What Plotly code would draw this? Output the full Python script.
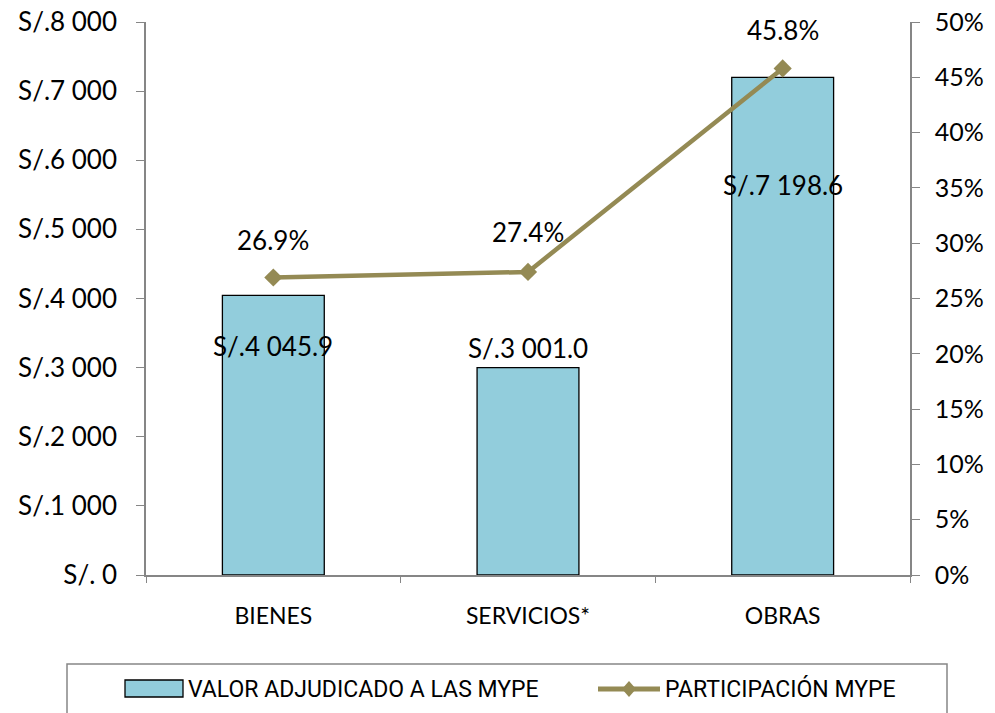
import plotly.graph_objects as go

categories = ["BIENES", "SERVICIOS*", "OBRAS"]
valor = [4045.9, 3001.0, 7198.6]
participacion = [26.9, 27.4, 45.8]
valor_labels = ["S/.4 045.9", "S/.3 001.0", "S/.7 198.6"]
pct_labels = ["26.9%", "27.4%", "45.8%"]
left_ticks = [0, 1000, 2000, 3000, 4000, 5000, 6000, 7000, 8000]
left_ticktext = ["S/. 0", "S/.1 000", "S/.2 000", "S/.3 000", "S/.4 000",
                 "S/.5 000", "S/.6 000", "S/.7 000", "S/.8 000"]
right_ticks = [0, 5, 10, 15, 20, 25, 30, 35, 40, 45, 50]
right_ticktext = [f"{v}%" for v in right_ticks]
legend_names = ["VALOR ADJUDICADO A LAS MYPE", "PARTICIPACIÓN MYPE"]

BAR_COLOR = "#92CDDC"
LINE_COLOR = "#948A54"
AXIS_COLOR = "#868686"
FONT = "Lato"

# The page body adds an 8px offset; figure geometry compensates for it.
OFF = 8
W, H = 995, 713
L, R, T, B = 146 - OFF, 85 + OFF, 22 - OFF, 138 + OFF
PW, PH = W - L - R, H - T - B


def px(x):
    # screen pixel x -> paper units
    return (x - OFF - L) / PW


def py(y):
    # screen pixel y -> paper units
    return (H - B - (y - OFF)) / PH


fig = go.Figure()
fig.add_trace(go.Bar(
    x=categories, y=valor, name=legend_names[0],
    marker=dict(color=BAR_COLOR, line=dict(color="black", width=1.3)),
    width=0.4, yaxis="y",
))
fig.add_trace(go.Scatter(
    x=categories, y=participacion, name=legend_names[1],
    mode="lines+markers",
    line=dict(color=LINE_COLOR, width=4.5),
    marker=dict(symbol="diamond", size=14, color=LINE_COLOR),
    yaxis="y2",
))

bar_shift = [-51, 20, -108]
for c, v, t, s in zip(categories, valor, valor_labels, bar_shift):
    fig.add_annotation(x=c, y=v, yref="y", text=t, showarrow=False,
                       yshift=s, font=dict(family=FONT, size=26, color="black"))
pct_shift = [37, 40, 38]
for c, v, t, s in zip(categories, participacion, pct_labels, pct_shift):
    fig.add_annotation(x=c, y=v, yref="y2", text=t, showarrow=False,
                       yshift=s, font=dict(family=FONT, size=26, color="black"))

# legend (drawn manually to match the wide swatches)
fig.add_shape(type="rect", xref="paper", yref="paper",
              x0=px(67), x1=px(947), y0=py(664), y1=py(740),
              line=dict(color=AXIS_COLOR, width=1.5), fillcolor="rgba(0,0,0,0)")
fig.add_shape(type="rect", xref="paper", yref="paper",
              x0=px(125), x1=px(183), y0=py(680), y1=py(697),
              line=dict(color="black", width=1.3), fillcolor=BAR_COLOR)
fig.add_shape(type="line", xref="paper", yref="paper",
              x0=px(598), x1=px(660), y0=py(689), y1=py(689),
              line=dict(color=LINE_COLOR, width=5))
cx, cy = 629, 689
fig.add_shape(type="path", xref="paper", yref="paper",
              path=(f"M {px(cx-7)} {py(cy)} L {px(cx)} {py(cy-8)} "
                    f"L {px(cx+7)} {py(cy)} L {px(cx)} {py(cy+8)} Z"),
              line=dict(color=LINE_COLOR, width=0), fillcolor=LINE_COLOR)
LEG_FONT = dict(family="Roboto", size=23, color="black")
fig.add_annotation(x=px(186), y=py(689), xref="paper", yref="paper",
                   text=legend_names[0], showarrow=False, xanchor="left",
                   yanchor="middle", font=LEG_FONT)
fig.add_annotation(x=px(663), y=py(689), xref="paper", yref="paper",
                   text=legend_names[1], showarrow=False, xanchor="left",
                   yanchor="middle", font=LEG_FONT)

fig.update_layout(
    width=W, height=H,
    margin=dict(l=L, r=R, t=T, b=B, autoexpand=False),
    plot_bgcolor="white", paper_bgcolor="white",
    font=dict(family=FONT, size=16, color="black"),
    showlegend=False,
    xaxis=dict(showline=True, linecolor=AXIS_COLOR, linewidth=1.5, automargin=False,
               ticks="outside", tickson="boundaries", ticklen=6, tickcolor=AXIS_COLOR,
               ticklabelstandoff=20,
               tickfont=dict(family=FONT, size=23), showgrid=False),
    yaxis=dict(range=[0, 8000], tickvals=left_ticks, ticktext=left_ticktext,
               showline=True, linecolor=AXIS_COLOR, linewidth=1.5, automargin=False,
               ticks="outside", ticklen=8, tickcolor=AXIS_COLOR,
               ticklabelstandoff=14, ticklabeloverflow="allow",
               tickfont=dict(family=FONT, size=26), showgrid=False, zeroline=False),
    yaxis2=dict(range=[0, 50], tickvals=right_ticks, ticktext=right_ticktext,
                overlaying="y", side="right", automargin=False,
                showline=True, linecolor=AXIS_COLOR, linewidth=1.5,
                ticks="outside", ticklen=8, tickcolor=AXIS_COLOR,
                ticklabelstandoff=10, ticklabeloverflow="allow",
                tickfont=dict(family=FONT, size=25), showgrid=False, zeroline=False),
)

fig.write_html("out.html")
